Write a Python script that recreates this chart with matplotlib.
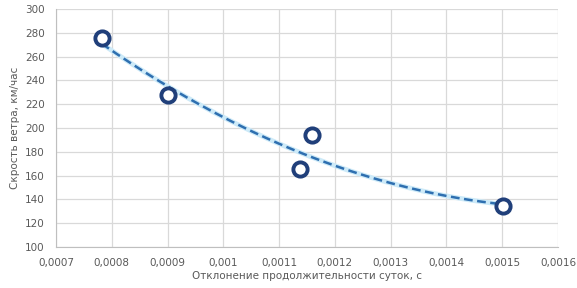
import matplotlib.pyplot as plt
import numpy as np

# Data
deviation = [0.000782, 0.000900, 0.001137, 0.001159, 0.001501]
wind_speed = [275.5, 227.8, 165.3, 193.8, 134.6]

xticks = [0.0007, 0.0008, 0.0009, 0.001, 0.0011, 0.0012, 0.0013, 0.0014, 0.0015, 0.0016]
xtick_labels = ['0,0007', '0,0008', '0,0009', '0,001', '0,0011', '0,0012',
                '0,0013', '0,0014', '0,0015', '0,0016']
yticks = [100, 120, 140, 160, 180, 200, 220, 240, 260, 280, 300]

fig = plt.figure(figsize=(5.77, 2.88), dpi=100)
ax = fig.add_axes([0.097, 0.142, 0.870, 0.827])

# polynomial trendline (order 2), like Excel
coef = np.polyfit(deviation, wind_speed, 2)
xs = np.linspace(min(deviation), max(deviation), 200)
ys = np.polyval(coef, xs)
ax.plot(xs, ys, color='#cdeaf8', lw=3.5, solid_capstyle='round', zorder=2)
ax.plot(xs, ys, color='#2e6fb0', lw=1.8, ls=(0, (3.5, 1.8)), zorder=3)

ax.scatter(deviation, wind_speed, s=105, facecolors='white', edgecolors='#203f7a',
           linewidths=2.8, zorder=4)

ax.set_xlim(0.0007, 0.0016)
ax.set_ylim(100, 300)
ax.set_xticks(xticks)
ax.set_xticklabels(xtick_labels)
ax.set_yticks(yticks)
ax.grid(True, color='#d9d9d9', lw=0.9)
ax.set_axisbelow(True)
for s in ['top', 'right']:
    ax.spines[s].set_visible(False)
for s in ['left', 'bottom']:
    ax.spines[s].set_color('#bfbfbf')
ax.tick_params(length=0, labelsize=7.5, labelcolor='#595959', pad=8)

ax.set_xlabel('Отклонение продолжительности суток, с', fontsize=7.5, color='#595959', labelpad=2)
ax.set_ylabel('Скрость ветра, км/час', fontsize=7.5, color='#595959', labelpad=4)

fig.savefig('out.png', dpi=100)
